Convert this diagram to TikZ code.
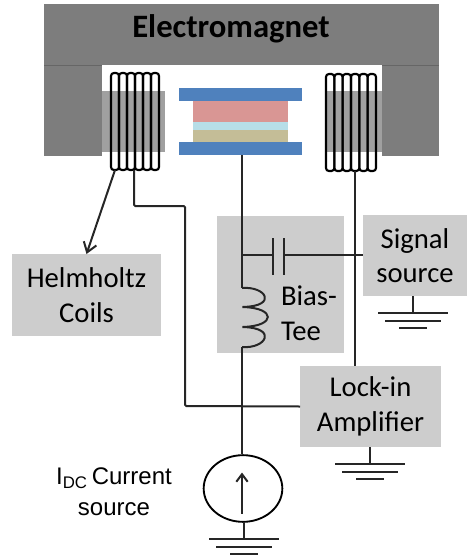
\documentclass[tikz,border=0pt]{standalone}
\usepackage{fontspec}
\setmainfont{Carlito}
\newfontfamily\arialfont{Liberation Sans}
\usepackage{xcolor}
\usetikzlibrary{positioning,arrows.meta,calc,shapes.geometric}
\definecolor{yokeclr}{RGB}{125,125,125}
\definecolor{poleclr}{RGB}{160,160,160}
\definecolor{boxclr}{RGB}{205,205,205}
\definecolor{elecclr}{RGB}{79,129,189}
\definecolor{pinkclr}{RGB}{217,150,148}
\definecolor{aquaclr}{RGB}{183,222,232}
\definecolor{tanclr}{RGB}{196,189,151}
\tikzset{
  slab/.style={rectangle,draw=none,inner sep=0pt,outer sep=0pt},
  greybox/.style={slab,fill=boxclr,align=center,font=\fontsize{21.5}{26}\selectfont},
  wire/.style={line width=1.5pt,black!85,rounded corners=1pt},
  loopcoil/.style={line width=1.6pt,rounded corners=2.2pt},
  gnd/.style={line width=1.4pt,black!85},
}
\newcommand{\groundsym}[1]{%
  \draw[gnd] (#1) -- ++(0,17) coordinate (g);
  \draw[gnd] ($(g)+(-35,0)$) -- ++(70,0);
  \draw[gnd] ($(g)+(-28,8)$) -- ++(56,0);
  \draw[gnd] ($(g)+(-14,15)$) -- ++(28,0);
}
\begin{document}
\begin{tikzpicture}[x=0.75pt,y=-0.75pt]
\useasboundingbox (0,0) rectangle (467,557);
% magnet
\node[slab, fill=yokeclr, minimum width=296pt, minimum height=46pt] (yoke) at (241.5,34.5) {};
\node[slab, font=\fontsize{24.5}{26}\selectfont\bfseries] (yokelbl) at (231,29) {Electromagnet};
\fill[yokeclr] (44,65) rectangle (102,156);
\fill[yokeclr] (382,65) rectangle (439,156);
\fill[poleclr] (102,91) rectangle (165,152);
\fill[poleclr] (325,91) rectangle (382,152);
\draw[black!60, line width=0.6pt] (44,65) -- (102,65) (382,65) -- (439,65);
% sample stack
\fill[elecclr] (179,88) rectangle (302,101);
\fill[pinkclr] (193,101) rectangle (288,122);
\fill[aquaclr] (193,122) rectangle (288,130);
\fill[tanclr] (193,130) rectangle (288,142);
\fill[elecclr] (179,142) rectangle (302,155);
\coordinate (stack) at (242,155);
% coils
\foreach \i in {0,...,5} {
  \draw[loopcoil] (111+8*\i,73) rectangle (119+8*\i,170);
  \draw[loopcoil] (326+8.33*\i,74) rectangle (334.33+8.33*\i,171);
}
\coordinate (coilA) at (115,170);
\coordinate (coilB) at (134,170);
\coordinate (coilC) at (355,171);
% boxes
\node[greybox, minimum width=112pt, minimum height=61.5pt] (helm) at (86.5,295) {Helmholtz\\Coils};
\node[slab, fill=boxclr, minimum width=95.25pt, minimum height=103pt] (tee) at (280.5,284.5) {};
\node[greybox, minimum width=78pt, minimum height=61pt] (signal) at (415,255.5) {Signal\\source};
\node[greybox, minimum width=105.75pt, minimum height=61pt] (lockin) at (370.5,406.5) {Lock-in\\Amplifier};
\node[slab, font=\fontsize{21.5}{26}\selectfont, align=left, anchor=west] (teelbl) at (281,313) {Bias-\\Tee};
% current source
\node[draw, ellipse, line width=1.4pt, minimum width=59pt, minimum height=50pt, inner sep=0pt] (src) at (243,488.5) {};
\coordinate (srcbot) at (244,522);
\node[font=\arialfont\fontsize{18}{23}\selectfont, align=center, inner sep=0pt] (srclbl) at (114,492)
  {I\textsubscript{DC}\,Current\\source};
\draw[-{Straight Barb[length=2mm,width=3mm]}, line width=1.5pt, black!85] ($(src.center)+(-1,25)$) -- ($(src.center)+(-1,-16)$);
% wires
\coordinate (capL) at (273,255);
\coordinate (capR) at (284,255);
\coordinate (indT) at (242,288);
\coordinate (indB) at (242,347);
\draw[wire] (stack) -- (indT);
\draw[wire] (242,255) -- (capL);
\draw[wire] (273,238) -- (273,275);
\draw[wire] (284,238) -- (284,275);
\draw[wire] (capR) -- (capR -| signal.west);
\draw[wire] (indT) .. controls (266,286) and (278,306) .. (242,307)
  .. controls (276,308) and (276,326) .. (242,327)
  .. controls (278,328) and (266,349) .. (indB);
\draw[wire] (indB) -- (src.north -| indB);
\draw[wire] (coilB) -- (134,206) -- (185,206) -- (185,406) -- (lockin.west);
\draw[wire] (coilC) -- (coilC |- lockin.north);
\draw[wire, -{Straight Barb[length=2.5mm,width=3.5mm]}] (coilA) -- (helm.north);
% grounds
\groundsym{413,296}
\groundsym{370,447}
\groundsym{srcbot}
\end{tikzpicture}
\end{document}
